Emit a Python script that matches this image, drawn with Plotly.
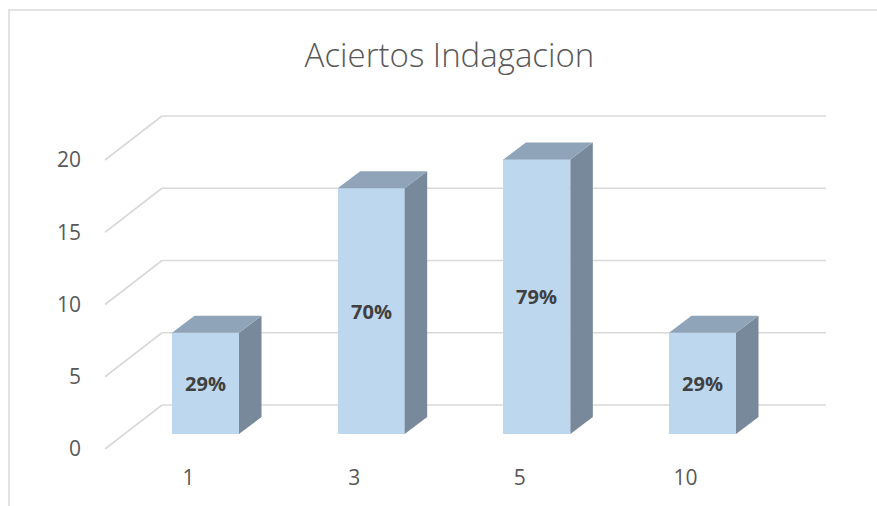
import plotly.graph_objects as go

# ---------------- data ----------------
categories = ["1", "3", "5", "10"]
values = [7, 17, 19, 7]
pct_labels = ["29%", "70%", "79%", "29%"]
y_ticks = [0, 5, 10, 15, 20]
title_text = "Aciertos Indagacion"

# ---------------- geometry / style ----------------
W, H = 877, 506
ML, MR, MT, MB = 90, 17, 100, 46
PLOT_W = W - ML - MR
PLOT_H = H - MT - MB
PXX = 165.67          # px per category step
PXY = 14.45           # px per value unit
X0PX = 188.5          # px of first category (front plane)
Y0PX = 449.0          # px of value 0 (front plane)

def ux(px):
    return px / PXX

def uy(px):
    return px / PXY

x_range = [ux(ML - X0PX), ux(ML + PLOT_W - X0PX)]
y_range = [uy(Y0PX - (MT + PLOT_H)), uy(Y0PX - MT)]

# oblique 3D offsets (px)
FRONT_DX, FRONT_DY = 17, 15     # bar front plane relative to axis front edge
DEPTH_DX, DEPTH_DY = 22.5, 17   # bar depth
BACK_DX, BACK_DY = 57, 44       # back wall relative to front edge
BAR_W = 67
GRID_X0 = ux(105 - X0PX)
GRID_X1 = ux(826 - X0PX)

FRONT_C = "#BDD7EE"
TOP_C = "#8FA4B8"
SIDE_C = "#78899B"
GRID_C = "#D9D9D9"
TXT_C = "#595959"
FONT = "Open Sans"

pos = list(range(len(categories)))
bx = [p + ux(FRONT_DX) for p in pos]
base = uy(FRONT_DY)
hw = ux(BAR_W) / 2
ddx, ddy = ux(DEPTH_DX), uy(DEPTH_DY)

fig = go.Figure()

# front faces
fig.add_trace(go.Bar(
    x=bx, y=values, base=[base] * len(values), width=ux(BAR_W),
    marker=dict(color=FRONT_C, line=dict(width=0)),
    text=pct_labels, textposition="inside", insidetextanchor="middle",
    textangle=0,
    textfont=dict(family=FONT, size=20, color="#404040", weight="bold"),
    hoverinfo="skip", showlegend=False,
))

# side and top faces
for xc, v in zip(bx, values):
    xl, xr = xc - hw, xc + hw
    top = base + v
    fig.add_trace(go.Scatter(
        x=[xr, xr, xr + ddx, xr + ddx, xr],
        y=[base, top, top + ddy, base + ddy, base],
        fill="toself", fillcolor=SIDE_C, mode="lines",
        line=dict(width=0, color=SIDE_C), hoverinfo="skip", showlegend=False))
    fig.add_trace(go.Scatter(
        x=[xl, xl + ddx, xr + ddx, xr, xl],
        y=[top, top + ddy, top + ddy, top, top],
        fill="toself", fillcolor=TOP_C, mode="lines",
        line=dict(width=0, color=TOP_C), hoverinfo="skip", showlegend=False))

# 3D gridlines (left wall diagonal + back wall horizontal), below traces
shapes = []
for t in y_ticks:
    xb = GRID_X0 + ux(BACK_DX)
    yb = t + uy(BACK_DY)
    shapes.append(dict(type="line", xref="x", yref="y", x0=GRID_X0, y0=t,
                       x1=xb, y1=yb, line=dict(color=GRID_C, width=1.6),
                       layer="below"))
    shapes.append(dict(type="line", xref="x", yref="y", x0=xb, y0=yb,
                       x1=GRID_X1, y1=yb, line=dict(color=GRID_C, width=1.6),
                       layer="below"))

# chart area border
shapes.append(dict(type="rect", xref="paper", yref="paper",
                   x0=(9 - ML) / PLOT_W, x1=(W + 20 - ML) / PLOT_W,
                   y0=(MT + PLOT_H - (H + 20)) / PLOT_H,
                   y1=(MT + PLOT_H - 10) / PLOT_H,
                   line=dict(color=GRID_C, width=1.5), layer="below"))

fig.update_layout(
    width=W, height=H,
    margin=dict(l=ML, r=MR, t=MT, b=MB),
    paper_bgcolor="white", plot_bgcolor="white",
    title=dict(text=title_text, x=0.5125, xanchor="center",
               y=1 - 55 / H, yanchor="middle", yref="container",
               font=dict(family=FONT, size=33, color=TXT_C, weight=300)),
    xaxis=dict(range=x_range, tickmode="array", tickvals=pos,
               ticktext=categories, showgrid=False, zeroline=False,
               showline=False, ticks="", ticklabelstandoff=3,
               tickfont=dict(family=FONT, size=21, color=TXT_C),
               fixedrange=True),
    yaxis=dict(range=y_range, tickmode="array", tickvals=y_ticks,
               showgrid=False, zeroline=False, showline=False, ticks="",
               ticklabelstandoff=8,
               tickfont=dict(family=FONT, size=21, color=TXT_C),
               fixedrange=True),
    shapes=shapes,
    bargap=0,
)

fig.write_html("out.html")
